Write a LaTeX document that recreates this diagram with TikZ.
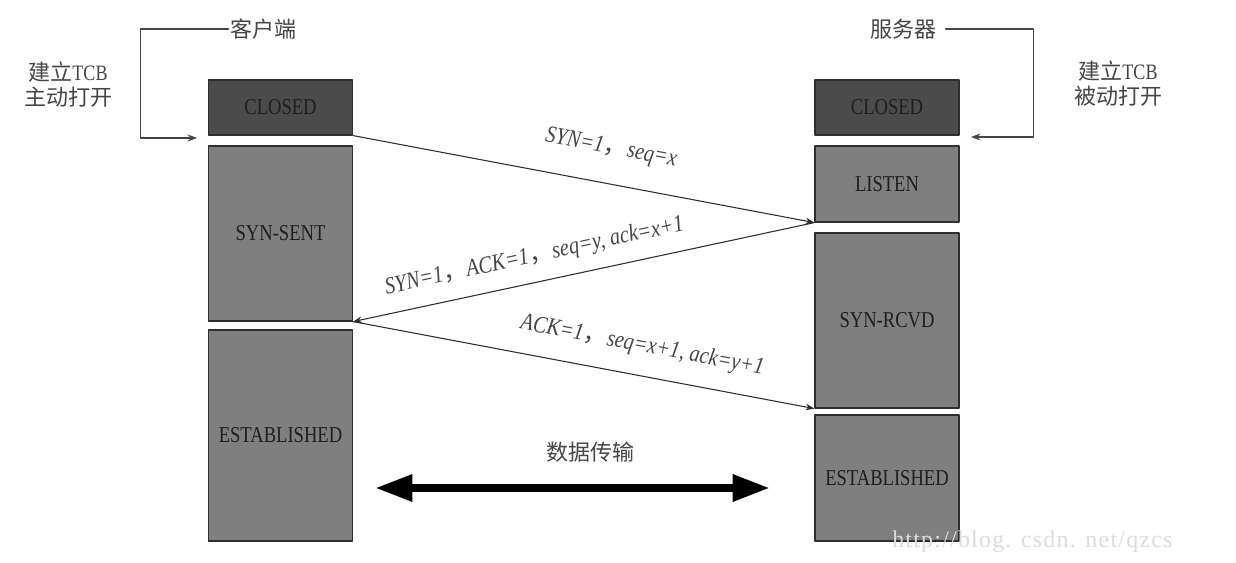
\documentclass[tikz,border=0pt]{standalone}
\usepackage{fontspec}
\setmainfont{Liberation Serif}
\newfontfamily\cjk{Noto Sans CJK SC}
\newfontfamily\boxfont[FakeStretch=0.82]{Liberation Serif}
\newfontfamily\msgfont[FakeStretch=0.85]{Liberation Serif}
\newfontfamily\markfont[LetterSpace=5]{Liberation Serif}
\usetikzlibrary{positioning, arrows.meta, calc}
\definecolor{figink}{HTML}{1E1E1E}
\definecolor{figline}{HTML}{2E2E2E}
\definecolor{figsub}{HTML}{454545}
\definecolor{darkfill}{HTML}{4B4B4B}
\definecolor{midfill}{HTML}{7F7F7F}
\definecolor{markgray}{HTML}{DCDCDC}
\newcommand{\qc}{{\cjk ，}}

\begin{document}
\begin{tikzpicture}[
  x=0.75pt, y=-0.75pt,
  line cap=round, line join=round,
  >=Stealth,
  state/.style = {draw=figline, line width=0.9pt, fill=midfill,
                  minimum width=108pt, inner sep=0pt, anchor=center,
                  text=figink, font=\boxfont\fontsize{17}{20}\selectfont},
  closed/.style = {state, fill=darkfill},
  msg/.style = {->, draw=figline, line width=0.8pt},
  lbl/.style = {sloped, inner sep=0pt, anchor=south, text=figsub,
                font=\msgfont\itshape\fontsize{18}{20}\selectfont},
  cn/.style = {inner sep=1pt, text=figsub, align=center,
               font=\cjk\fontsize{16.5}{18.75}\selectfont},
  brk/.style = {->, draw=figsub, line width=0.9pt}
]
\useasboundingbox (0,0) rectangle (1236,563);

% 客户端状态
\node[closed, minimum height=41.25pt]  (cclosed) at (280.5,107.5) {CLOSED};
\node[state,  minimum height=131.25pt] (csent)   at (280.5,233.5) {SYN-SENT};
\node[state,  minimum height=158.25pt] (cest)    at (280.5,435.5) {ESTABLISHED};

% 服务器状态
\node[closed, minimum height=41.25pt] (sclosed) at (887,107.5) {CLOSED};
\node[state,  minimum height=57pt]    (slisten) at (887,184)   {LISTEN};
\node[state,  minimum height=131.25pt](srcvd)   at (887,320.5) {SYN-RCVD};
\node[state,  minimum height=94.5pt]  (sest)    at (887,478)   {ESTABLISHED};

% 标题与打开方式
\node[cn] (client) at (263,29)  {客户端};
\node[cn] (server) at (903,29)  {服务器};
\node[cn] (copen)  at (68,85)   {建立{\boxfont TCB}\\主动打开};
\node[cn] (sopen)  at (1118,84) {建立{\boxfont TCB}\\被动打开};
\coordinate (cin) at (197,138);
\coordinate (sin) at (971,137);
\draw[brk] (client.west) -- ++(-88,0) |- (cin);
\draw[brk] ([xshift=6pt]server.east) -- ++(88,0) |- (sin);

% 三次握手
\draw[msg] (cclosed.south east) -- node[lbl, pos=0.545, above=18pt]
  {SYN=1\qc seq=x} (slisten.south west);
\draw[msg] (slisten.south west) -- node[lbl, pos=0.595, above=10.5pt]
  {SYN=1\qc ACK=1\qc seq=y, ack=x+1} (csent.south east);
\draw[msg] (csent.south east) -- node[lbl, pos=0.615, above=13.5pt]
  {ACK=1\qc seq=x+1, ack=y+1} (srcvd.south west);

% 数据传输
\node[cn] (xfer) at (590,452) {数据传输};
\coordinate (dl) at (375,488);
\coordinate (dr) at (770,488);
\draw[line width=6pt, line cap=butt,
      {Triangle[length=28pt, width=19pt]}-{Triangle[length=28pt, width=19pt]}]
  (dl) -- (dr);

% 水印
\node[inner sep=0pt, anchor=west, text=markgray,
      font=\markfont\fontsize{18}{20}\selectfont] (wm) at (892,542)
  {http://blog. csdn. net/qzcs};

\end{tikzpicture}
\end{document}
